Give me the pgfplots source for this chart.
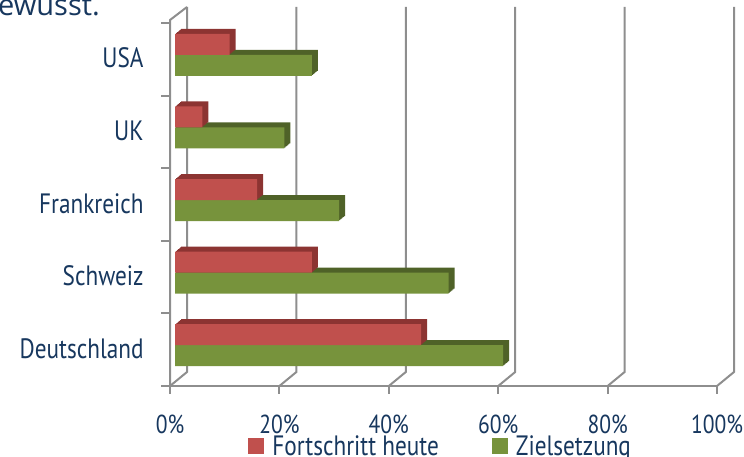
\documentclass[border=0pt]{standalone}
\usepackage{fontspec}
\setmainfont{PT Sans}[FakeStretch=0.83]
\newfontfamily\titlefont{Open Sans}
\usepackage{pgfplots}
\pgfplotsset{compat=1.18}
\definecolor{navy}{HTML}{17375E}
\definecolor{redF}{HTML}{C0504D}
\definecolor{redD}{HTML}{8C3432}
\definecolor{greenF}{HTML}{77933C}
\definecolor{greenD}{HTML}{4F6228}
\definecolor{gridc}{HTML}{8E8E8E}
\pgfplotstableread{
y red green
0 45 60
1 25 50
2 15 30
3 5 20
4 10 25
}\datatable
\begin{document}
\begin{tikzpicture}[x=1pt,y=1pt]
\path[use as bounding box] (0,0) rectangle (744,456);
\node[anchor=base east, inner sep=0pt, text=navy, font=\titlefont\fontsize{29}{32}\selectfont] at (100,440) {bewusst.};
% back wall gridlines and floor connectors
\foreach \v in {0,...,5} {
  \draw[gridc, line width=2pt] ({170+109.4*\v},70) -- ++(17,14) -- ++(0,365);
  \draw[gridc, line width=2pt] ({170+109.4*\v},70) -- ++(0,-8);
}
% front axis lines
\draw[gridc, line width=2pt] (161,70) -- (717,70);
\draw[gridc, line width=2pt] (170,70) -- (170,436) -- (187,449);
\foreach \t in {70,142.6,215.2,287.8,360.4,433} {
  \draw[gridc, line width=2pt] (161,\t) -- (170,\t);
}
\begin{axis}[
  at={(170pt,70pt)}, anchor=south west, scale only axis,
  width=547pt, height=363pt,
  xmin=0, xmax=100, ymin=-0.5, ymax=4.5,
  clip=false,
  axis line style={draw=none}, tick style={draw=none},
  xtick={0,20,...,100},
  xticklabels={0\%,20\%,40\%,60\%,80\%,100\%},
  ytick={0,...,4},
  yticklabels={Deutschland,Schweiz,Frankreich,UK,USA},
  xticklabel style={anchor=base, inner sep=0pt, yshift=-47pt, text=navy, font=\fontsize{26}{28}\selectfont},
  yticklabel style={anchor=base east, inner sep=0pt, xshift=-22pt, yshift=-8.5pt, text=navy, font=\fontsize{28}{30}\selectfont},
  xbar, bar width=21pt,
  legend columns=2,
  legend style={at={(axis description cs:0.143,-0.165)}, anchor=west, draw=none, fill=none, inner sep=0pt,
    font=\fontsize{28}{30}\selectfont, text=navy,
    /tikz/every odd column/.append style={column sep=8pt},
    /tikz/every even column/.append style={column sep=53pt},
    nodes={inner sep=0pt, anchor=west}},
  legend image code/.code={\fill[#1] (0pt,-8pt) rectangle (16pt,8pt);},
]
% green depth
\pgfplotsinvokeforeach{1,...,6}{
  \addplot[forget plot, xbar, fill=greenD, draw=none, bar shift=-6pt, xshift={(5+#1)*1pt}, yshift={#1*0.8333pt}] table[x=green, y=y] {\datatable};
}
\addplot[forget plot, xbar, fill=greenF, draw=none, bar shift=-6pt, xshift=5pt] table[x=green, y=y] {\datatable};
% red depth
\pgfplotsinvokeforeach{1,...,6}{
  \addplot[forget plot, xbar, fill=redD, draw=none, bar shift=15pt, xshift={(5+#1)*1pt}, yshift={#1*0.8333pt}] table[x=red, y=y] {\datatable};
}
\addplot[forget plot, xbar, fill=redF, draw=none, bar shift=15pt, xshift=5pt] table[x=red, y=y] {\datatable};
% legend entries
\addlegendimage{fill=redF, draw=none}
\addlegendentry{Fortschritt heute}
\addlegendimage{fill=greenF, draw=none}
\addlegendentry{Zielsetzung}
\end{axis}
\end{tikzpicture}
\end{document}
